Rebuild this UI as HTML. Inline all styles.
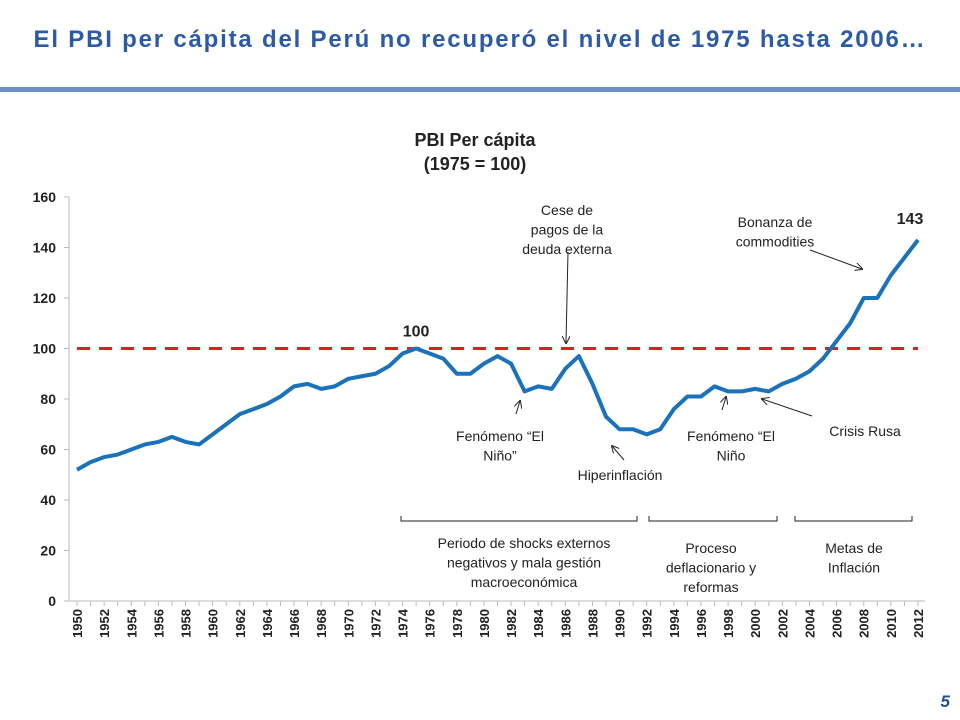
<!DOCTYPE html>
<html><head><meta charset="utf-8"><style>
body{margin:0;width:960px;height:720px;background:#fff;font-family:"Liberation Sans",sans-serif;overflow:hidden;position:relative}
#title{position:absolute;top:26px;left:0;width:960px;text-align:center;font-size:24px;letter-spacing:1.8px;font-weight:bold;color:#2d5ba3;white-space:nowrap}
#rule{position:absolute;top:87px;left:0;width:960px;height:5px;background:#6b8fc8}
#pg{position:absolute;right:10px;top:692px;font-size:17px;font-style:italic;font-weight:bold;color:#1f4e8c}
svg{position:absolute;left:0;top:0}
</style></head><body>
<div id="title">El PBI per cápita del Perú no recuperó el nivel de 1975 hasta 2006…</div>
<div id="rule"></div>
<svg id="chart" width="960" height="720" font-family="Liberation Sans, sans-serif"></svg>
<div id="pg">5</div>
<script>
const years=[];for(let y=1950;y<=2012;y++)years.push(y);
const pbi=[52,55,57,58,60,62,63,65,63,62,66,70,74,76,78,81,85,86,84,85,88,89,90,93,98,100,98,96,90,90,94,97,94,83,85,84,92,97,86,73,68,68,66,68,76,81,81,85,83,83,84,83,86,88,91,96,103,110,120,120,129,136,143];
const yTicks=[0,20,40,60,80,100,120,140,160];
const refValue=[100];
const X=y=>77+(y-1950)*(841/62);
const Y=v=>601-v*(404/160);
const svg=document.getElementById('chart');const NS='http://www.w3.org/2000/svg';
function el(t,a,p){const e=document.createElementNS(NS,t);for(const k in a)e.setAttribute(k,a[k]);(p||svg).appendChild(e);return e;}
function txt(s,x,y,a){const e=el('text',Object.assign({x:x,y:y,'font-size':14,fill:'#222','text-anchor':'middle'},a||{}));e.textContent=s;return e;}
let t=txt('PBI Per cápita',475,146,{'font-size':18,'font-weight':'bold'});

t=txt('(1975 = 100)',475,170,{'font-size':18,'font-weight':'bold'});

let ax=el('line',{x1:69,x2:69,y1:Y(160),y2:Y(0),stroke:'#bbb'});

ax=el('line',{x1:69,x2:925,y1:Y(0),y2:Y(0),stroke:'#bbb'});

yTicks.forEach(v=>{el('line',{x1:64,x2:69,y1:Y(v),y2:Y(v),stroke:'#bbb'});
const l=txt(String(v),56,Y(v)+5,{'text-anchor':'end','font-size':14,'font-weight':'bold'});
});
years.forEach(y=>{el('line',{x1:X(y),x2:X(y),y1:Y(0),y2:Y(0)+5,stroke:'#bbb'});
if(y%2===0){const l=txt(String(y),0,0,{'text-anchor':'end','font-size':13,'font-weight':'bold',transform:`translate(${X(y)+5},${Y(0)+8}) rotate(-90)`});
}});
const ref=el('line',{x1:77,x2:918,y1:Y(refValue[0]),y2:Y(refValue[0]),stroke:'#e02020','stroke-width':3,'stroke-dasharray':'13,9'});

const line=el('polyline',{points:years.map((y,i)=>X(y)+','+Y(pbi[i])).join(' '),fill:'none',stroke:'#1a72bb','stroke-width':4,'stroke-linejoin':'round'});

t=txt('100',X(1975),Y(100)-12,{'font-size':16,'font-weight':'bold'});
t=txt('143',X(2012)-8,Y(143)-16,{'font-size':16,'font-weight':'bold'});
const defs=el('defs',{});const m=el('marker',{id:'ah',markerWidth:8,markerHeight:8,refX:7,refY:4,orient:'auto'},defs);el('path',{d:'M0,0 L8,4 L0,8',fill:'none',stroke:'#222'},m);
function arrow(x1,y1,x2,y2,n){const a=el('line',{x1,y1,x2,y2,stroke:'#222','stroke-width':1,'marker-end':'url(#ah)'});}
function ann(lines,x,y,n){lines.forEach((s,i)=>{const e=txt(s,x,y+i*19.5);});}
ann(['Cese de','pagos de la','deuda externa'],567,215,'annotation-cese');arrow(568,252,566,343,'arrow-cese');
ann(['Bonanza de','commodities'],775,227,'annotation-bonanza');arrow(810,250,862,269,'arrow-bonanza');
ann(['Fenómeno “El','Niño”'],500,441,'annotation-nino-1983');arrow(516,414,520,401,'arrow-nino-1983');
ann(['Hiperinflación'],620,480,'annotation-hiperinflacion');arrow(624,460,612,446,'arrow-hiper');
ann(['Fenómeno “El','Niño'],731,441,'annotation-nino-1998');arrow(722,410,726,397,'arrow-nino-1998');
ann(['Crisis Rusa'],865,436,'annotation-crisis-rusa');arrow(812,416,762,399,'arrow-crisis');
function brace(x1,x2,n){const b=el('path',{d:`M${x1},516 L${x1},521 L${x2},521 L${x2},516`,fill:'none',stroke:'#222'});}
brace(401,637,'bracket-shocks');brace(649,777,'bracket-proceso');brace(795,912,'bracket-metas');
ann(['Periodo de shocks externos','negativos y mala gestión','macroeconómica'],524,548,'period-shocks');
ann(['Proceso','deflacionario y','reformas'],711,553,'period-proceso');
ann(['Metas de','Inflación'],854,553,'period-metas');
</script>
</body></html>
